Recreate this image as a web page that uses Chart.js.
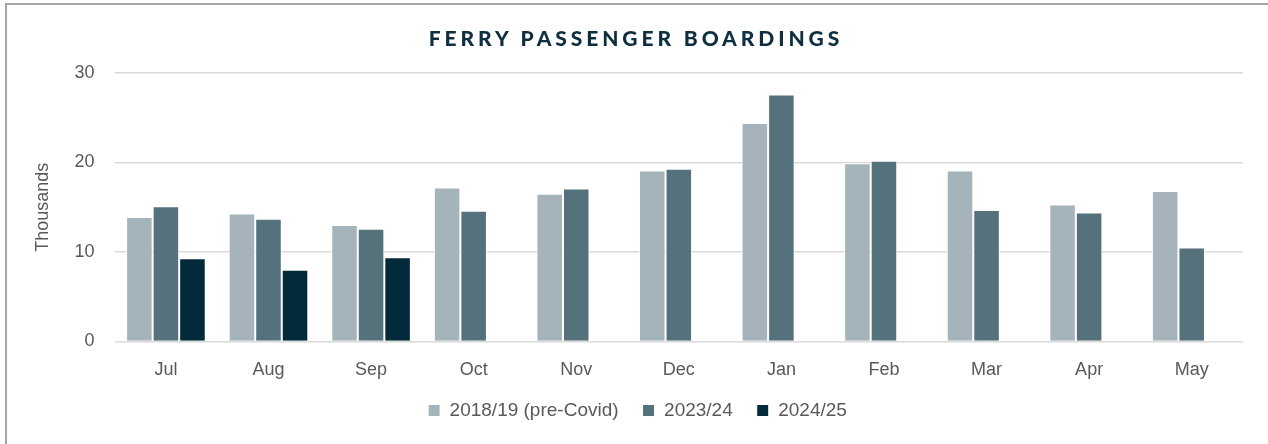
<!DOCTYPE html>
<html>
<head>
<meta charset="utf-8">
<script src="https://cdn.jsdelivr.net/npm/chart.js@4"></script>
<style>
  html, body { margin: 0; padding: 0; background: #fff; overflow: hidden; }
  #wrap { position: relative; width: 1268px; height: 444px; overflow: hidden; }
  #frame { position: absolute; left: 5px; top: 3px; width: 1300px; height: 500px;
           border-top: 2px solid #a6a6a6; border-left: 2px solid #a6a6a6; }
  #titulo { position: absolute; left: 4px; right: 0; top: 25px; text-align: center;
            font-family: Lato, sans-serif; font-weight: 900; font-size: 21px;
            letter-spacing: 3.9px; color: #0e2f3f; }
  canvas { position: absolute; left: 0; top: 0; }
</style>
</head>
<body>
<div id="wrap">
  <div id="frame"></div>
  <canvas id="ferryChart" width="1268" height="444"></canvas>
  <div id="titulo">FERRY PASSENGER BOARDINGS</div>
</div>
<script>
// Datos (miles de pasajeros)
const meses = ['Jul', 'Aug', 'Sep', 'Oct', 'Nov', 'Dec', 'Jan', 'Feb', 'Mar', 'Apr', 'May'];
const preCovid = [13.9, 14.3, 13.0, 17.2, 16.5, 19.1, 24.4, 19.9, 19.1, 15.3, 16.8];
const temporada2324 = [15.1, 13.7, 12.6, 14.6, 17.1, 19.3, 27.6, 20.2, 14.7, 14.4, 10.5];
const temporada2425 = [9.3, 8.0, 9.4, null, null, null, null, null, null, null, null];
const ticksY = [0, 10, 20, 30];

const gris = '#595959';

// sube la leyenda un poco, más cerca de las etiquetas de los meses
const subirLeyenda = {
    id: 'subirLeyenda',
    afterLayout(chart) {
        const l = chart.legend;
        if (!l) return;
        l.top -= 14;
        l.bottom -= 14;
    }
};

const ctx = document.getElementById('ferryChart').getContext('2d');
const ferryChart = new Chart(ctx, {
    type: 'bar',
    data: {
        labels: meses,
        datasets: [
            { label: '2018/19 (pre-Covid)', data: preCovid, backgroundColor: '#a5b4ba' },
            { label: '2023/24', data: temporada2324, backgroundColor: '#54717c' },
            { label: '2024/25', data: temporada2425, backgroundColor: '#032a3a' }
        ]
    },
    options: {
        responsive: false,
        animation: false,
        datasets: {
            bar: {
                barPercentage: 1,
                categoryPercentage: 0.776,
                borderColor: '#ffffff',
                borderWidth: 1,
                borderSkipped: 'start'
            }
        },
        layout: { padding: { top: 73, left: 32, right: 25, bottom: 0 } },
        scales: {
            x: {
                grid: { display: false },
                border: { display: false },
                ticks: { color: gris, font: { family: 'Liberation Sans', size: 18 }, padding: 10 }
            },
            y: {
                min: 0,
                max: 30,
                afterBuildTicks: (axis) => { axis.ticks = ticksY.map(v => ({ value: v })); },
                grid: { color: '#d9d9d9', lineWidth: 1.5, drawTicks: false },
                border: { display: false },
                ticks: { color: gris, font: { family: 'Liberation Sans', size: 18 }, padding: 20 },
                title: {
                    display: true,
                    text: 'Thousands',
                    color: gris,
                    font: { family: 'Liberation Sans', size: 18 },
                    padding: { top: 0, bottom: 1 }
                }
            }
        },
        plugins: {
            title: { display: false },
            tooltip: { enabled: false },
            legend: {
                position: 'bottom',
                labels: {
                    color: gris,
                    boxWidth: 12,
                    boxHeight: 12,
                    padding: 24,
                    font: { family: 'Liberation Sans', size: 19 }
                }
            }
        }
    },
    plugins: [subirLeyenda]
});
</script>
</body>
</html>
